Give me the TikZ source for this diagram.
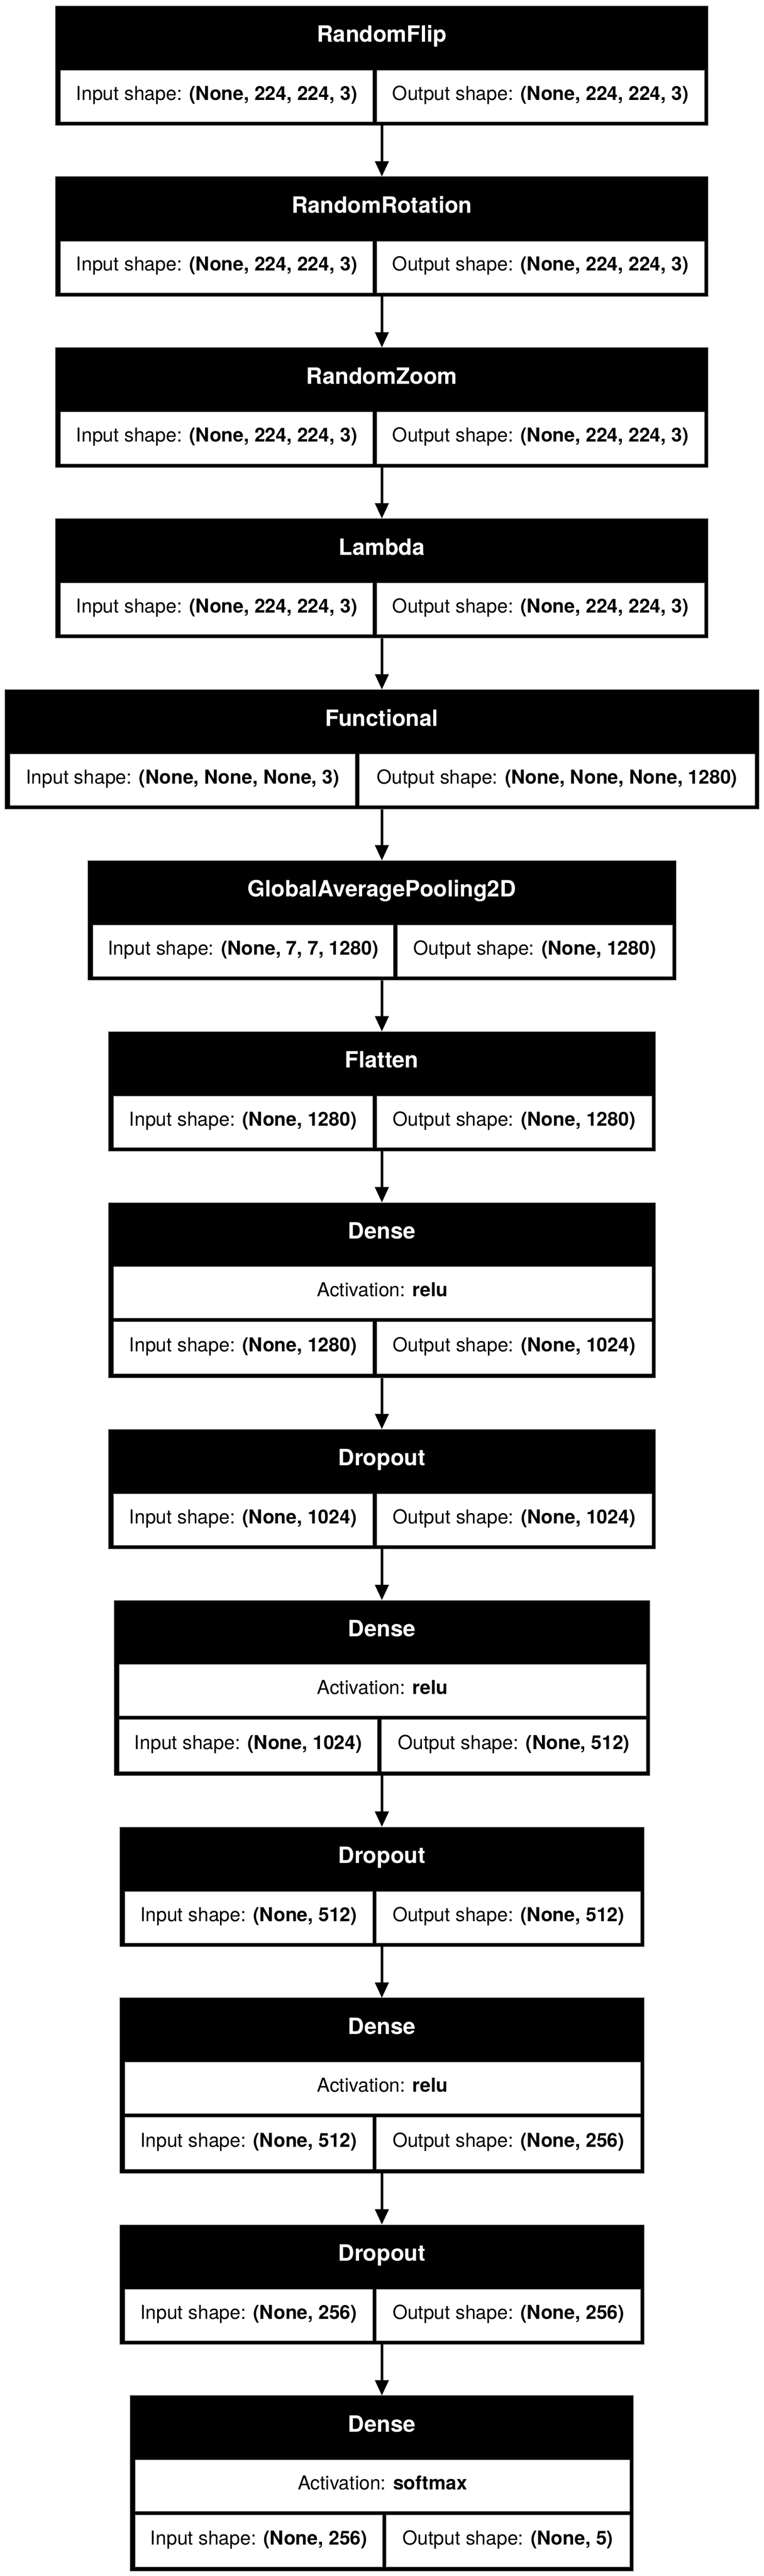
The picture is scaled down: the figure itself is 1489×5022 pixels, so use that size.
\documentclass[tikz,border=0pt]{standalone}
\usepackage{fontspec}
\setmainfont{TeX Gyre Heros}
\usetikzlibrary{arrows.meta}
\definecolor{cellline}{RGB}{120,120,120}
\tikzset{
  outerbox/.style={rectangle, fill=black, draw=cellline, line width=0.8pt, inner sep=0pt, outer sep=0pt},
  titletext/.style={text=white, inner sep=0pt, font=\fontsize{43.75}{52}\selectfont\bfseries},
  cellbox/.style={rectangle, fill=white, draw=cellline, line width=0.8pt, inner sep=0pt, outer sep=0pt,
    text height=27pt, text depth=11pt, align=center, font=\fontsize{37.5}{45}\selectfont},
  arr/.style={line width=5.5pt, -{Triangle[length=30pt, width=26pt]}}
}
% single-row block: name, top, left, right, divider, title, in, out
\newcommand\blkone[8]{%
  \node[outerbox, minimum width={#4-#3}, minimum height=233.3, anchor=north west] (#1) at (#3,#2) {};
  \node[titletext, anchor=base] (#1t) at ({(#3+#4)/2},{#2+71}) {#6};
  \node[cellbox, anchor=north west, minimum width={#5-3.8-#3-10}, minimum height=100.6] (#1i) at ({#3+10},{#2+125.7}) {Input shape: \textbf{#7}};
  \node[cellbox, anchor=north west, minimum width={#4-7.3-#5-3.8}, minimum height=100.6] (#1o) at ({#5+3.8},{#2+125.7}) {Output shape: \textbf{#8}};
}
% two-row block: name, top, left, right, divider, title, activation, in, out
\newcommand\blktwo[9]{%
  \node[outerbox, minimum width={#4-#3}, minimum height=342, anchor=north west] (#1) at (#3,#2) {};
  \node[titletext, anchor=base] (#1t) at ({(#3+#4)/2},{#2+71}) {#6};
  \node[cellbox, anchor=north west, minimum width={#4-7.3-#3-10}, minimum height=100.3] (#1a) at ({#3+10},{#2+125}) {Activation: \textbf{#7}};
  \node[cellbox, anchor=north west, minimum width={#5-3.8-#3-10}, minimum height=101] (#1i) at ({#3+10},{#2+232.7}) {Input shape: \textbf{#8}};
  \node[cellbox, anchor=north west, minimum width={#4-7.3-#5-3.8}, minimum height=101] (#1o) at ({#5+3.8},{#2+232.7}) {Output shape: \textbf{#9}};
}
\begin{document}
\begin{tikzpicture}[x=1pt,y=-1pt]
\fill[white] (0,0) rectangle (1489,5022);
\useasboundingbox (0,0) rectangle (1489,5022);

\blkone{b1}{11}{108.3}{1380.7}{730.5}{RandomFlip}{(None, 224, 224, 3)}{(None, 224, 224, 3)}
\blkone{b2}{344.3}{108.3}{1380.7}{730.5}{RandomRotation}{(None, 224, 224, 3)}{(None, 224, 224, 3)}
\blkone{b3}{677.6}{108.3}{1380.7}{730.5}{RandomZoom}{(None, 224, 224, 3)}{(None, 224, 224, 3)}
\blkone{b4}{1011}{108.3}{1380.7}{730.5}{Lambda}{(None, 224, 224, 3)}{(None, 224, 224, 3)}
\blkone{b5}{1344.3}{9.5}{1479.5}{696.5}{Functional}{(None, None, None, 3)}{(None, None, None, 1280)}
\blkone{b6}{1677.6}{171}{1318}{771}{GlobalAveragePooling2D}{(None, 7, 7, 1280)}{(None, 1280)}
\blkone{b7}{2011}{211}{1278}{730.5}{Flatten}{(None, 1280)}{(None, 1280)}
\blktwo{b8}{2344.3}{211}{1278}{730.5}{Dense}{relu}{(None, 1280)}{(None, 1024)}
\blkone{b9}{2786.3}{211}{1278}{730.5}{Dropout}{(None, 1024)}{(None, 1024)}
\blktwo{b10}{3119.6}{222}{1267}{739.8}{Dense}{relu}{(None, 1024)}{(None, 512)}
\blkone{b11}{3561.6}{233}{1256}{730.2}{Dropout}{(None, 512)}{(None, 512)}
\blktwo{b12}{3894.9}{233}{1256}{730.2}{Dense}{relu}{(None, 512)}{(None, 256)}
\blkone{b13}{4336.9}{233}{1256}{730.2}{Dropout}{(None, 256)}{(None, 256)}
\blktwo{b14}{4670.2}{254}{1235}{749.2}{Dense}{softmax}{(None, 256)}{(None, 5)}

\foreach \a/\b in {b1/b2,b2/b3,b3/b4,b4/b5,b5/b6,b6/b7,b7/b8,b8/b9,b9/b10,b10/b11,b11/b12,b12/b13,b13/b14}
  \draw[arr] (\a.south) -- (\b.north);
\end{tikzpicture}
\end{document}
